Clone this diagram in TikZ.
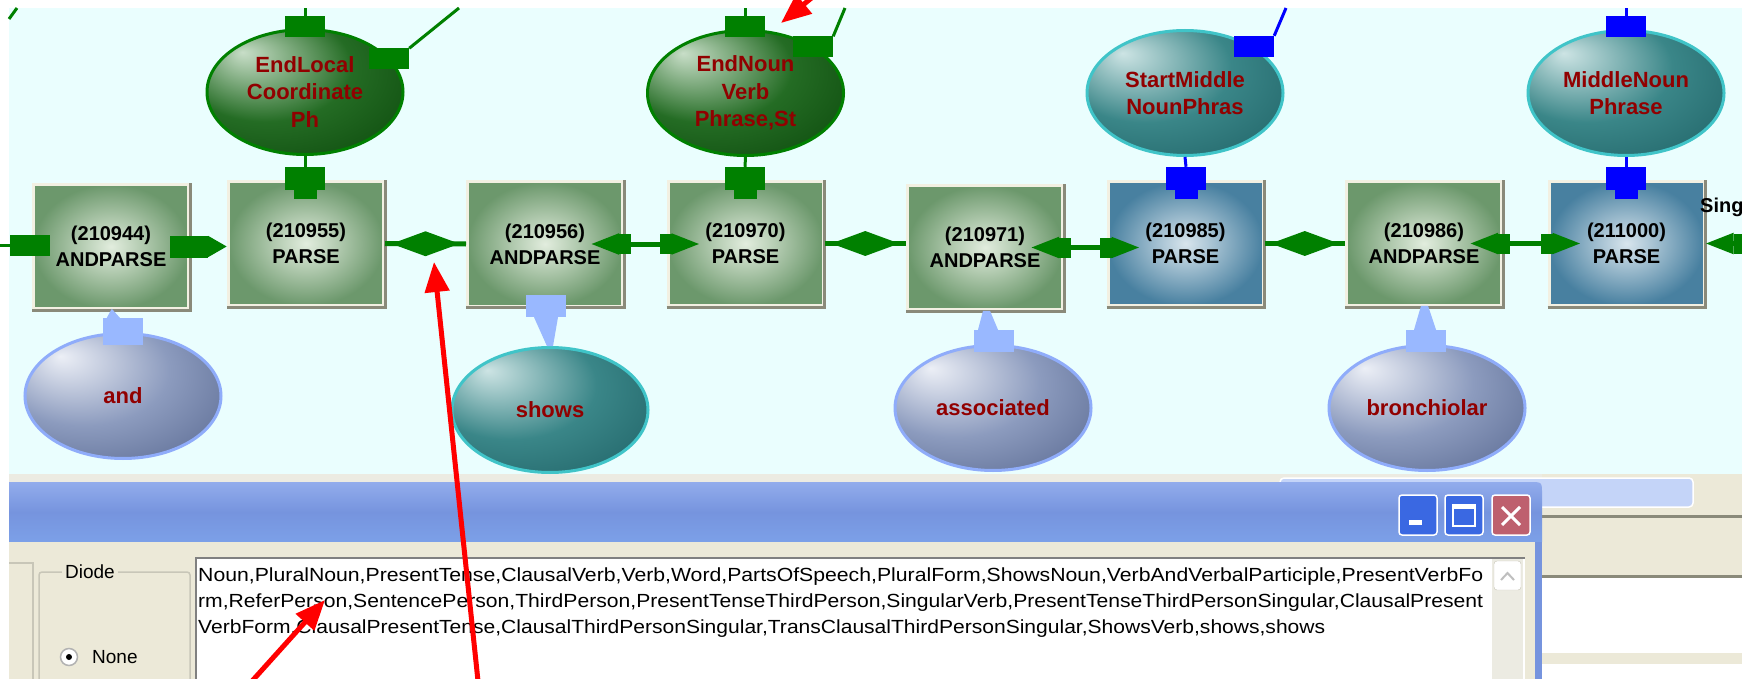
\documentclass[tikz,border=0pt]{standalone}
\usepackage{fontspec}
\setmainfont{Liberation Sans}
\usepackage{graphicx}
\usetikzlibrary{shapes.geometric,arrows.meta,calc}

\definecolor{canvasbg}{RGB}{234,254,254}
\definecolor{stripgray}{RGB}{236,235,226}
\definecolor{wiregreen}{RGB}{0,128,0}
\definecolor{portblue}{RGB}{0,0,255}
\definecolor{portlight}{RGB}{153,184,255}
\definecolor{greenout}{RGB}{108,152,108}
\definecolor{greenin}{RGB}{226,237,222}
\definecolor{blueout}{RGB}{72,128,160}
\definecolor{bluein}{RGB}{216,229,237}
\definecolor{boxrim}{RGB}{242,240,226}
\definecolor{boxshadow}{RGB}{138,138,122}
\definecolor{labelred}{RGB}{145,0,0}
\definecolor{greenhi}{RGB}{200,222,200}
\definecolor{greenmid}{RGB}{36,108,36}
\definecolor{greenrim}{RGB}{10,70,10}
\definecolor{tealhi}{RGB}{205,228,228}
\definecolor{tealmid}{RGB}{58,134,136}
\definecolor{tealrimc}{RGB}{30,96,100}
\definecolor{grayhi}{RGB}{236,239,246}
\definecolor{graymid}{RGB}{140,155,190}
\definecolor{grayrimc}{RGB}{86,102,142}
\definecolor{tealrim}{RGB}{64,196,200}
\definecolor{grayrim}{RGB}{143,172,250}
\definecolor{xpbeige}{RGB}{236,233,216}
\definecolor{titletop}{RGB}{146,172,236}
\definecolor{titlemid}{RGB}{118,148,222}
\definecolor{titlebot}{RGB}{124,160,232}
\definecolor{otherbar}{RGB}{196,212,248}
\definecolor{btnblue}{RGB}{58,104,226}
\definecolor{btnred}{RGB}{190,96,110}
\definecolor{framegray}{RGB}{200,198,184}
\definecolor{editgray}{RGB}{128,128,128}

\pgfdeclareradialshading{greenglow}{\pgfpoint{-16bp}{16bp}}{color(0bp)=(greenhi); color(22bp)=(greenmid); color(44bp)=(greenrim); color(60bp)=(greenrim)}
\pgfdeclareradialshading{tealglow}{\pgfpoint{-16bp}{16bp}}{color(0bp)=(tealhi); color(22bp)=(tealmid); color(44bp)=(tealrimc); color(60bp)=(tealrimc)}
\pgfdeclareradialshading{grayglow}{\pgfpoint{-16bp}{16bp}}{color(0bp)=(grayhi); color(22bp)=(graymid); color(44bp)=(grayrimc); color(60bp)=(grayrimc)}

\newcommand{\parsefont}{\fontsize{20}{26}\selectfont\bfseries}
\newcommand{\tagfont}{\fontsize{22}{27.5}\selectfont\bfseries}
\newcommand{\uifont}{\fontsize{19}{26}\selectfont}

\tikzset{
  parsebox/.style={rectangle, minimum width=155pt, minimum height=124pt, inner sep=0pt,
    draw=boxrim, line width=3pt, inner color=greenin, outer color=greenout,
    align=center, font=\parsefont},
  bluebox/.style={parsebox, inner color=bluein, outer color=blueout},
  boxshade/.style={draw=boxshadow, line width=3pt},
  greenball/.style={ellipse, minimum width=196pt, minimum height=125pt, inner sep=0pt,
    shade, shading=greenglow, draw=wiregreen, line width=3pt, align=center,
    text=labelred, font=\tagfont},
  tealball/.style={greenball, shading=tealglow, draw=tealrim},
  grayball/.style={greenball, shading=grayglow, draw=grayrim},
  gport/.style={rectangle, fill=wiregreen, minimum width=40pt, minimum height=21pt, inner sep=0pt},
  bport/.style={gport, fill=portblue},
  lport/.style={gport, fill=portlight, minimum height=22pt},
  wire/.style={draw=wiregreen, line width=3pt},
  bwire/.style={draw=portblue, line width=3pt},
  link/.style={draw=wiregreen, line width=5pt},
  diode/.style={diamond, aspect=2.6, fill=wiregreen, minimum width=70pt, minimum height=27pt, inner sep=0pt},
  biarrow/.style={link,
    arrows={{Triangle[length=28pt,width=20pt] Rectangle[length=12pt,width=20pt]}-{Rectangle[length=12pt,width=20pt] Triangle[length=28pt,width=20pt]}},
    shorten <=-33pt, shorten >=-33pt},
  redarrow/.style={draw=red, line width=5pt, arrows={-{Triangle[length=30pt,width=24pt]}}},
  uitext/.style={inner sep=0pt, font=\uifont}
}

\begin{document}
\begin{tikzpicture}[x=1pt, y=-1pt]
    \useasboundingbox (0,0) rectangle (1742,679);

    % canvas
    \fill[white] (0,0) rectangle (1742,679);
    \fill[canvasbg] (9,8) rectangle (1742,474);
    \fill[stripgray] (9,474) rectangle (1742,482);

    \coordinate (tl1) at (9,19);
    \coordinate (tl2) at (17,8);
    \draw[wire] (tl1) -- (tl2);

    % parse boxes
    \node[parsebox] (b1) at (111,246.5) {(210944)\\ANDPARSE};
    \node[parsebox] (b2) at (306,243.5) {(210955)\\PARSE};
    \node[parsebox] (b3) at (545,244) {(210956)\\ANDPARSE};
    \node[parsebox] (b4) at (745.5,243.5) {(210970)\\PARSE};
    \node[parsebox] (b5) at (985,247.5) {(210971)\\ANDPARSE};
    \node[bluebox] (b6) at (1185.5,243.5) {(210985)\\PARSE};
    \node[parsebox] (b7) at (1424,243.5) {(210986)\\ANDPARSE};
    \node[bluebox] (b8) at (1626.5,243.5) {(211000)\\PARSE};

    \draw[boxshade] (b1.south west) -- (b1.south east) -- (b1.north east);
    \draw[boxshade] (b2.south west) -- (b2.south east) -- (b2.north east);
    \draw[boxshade] (b3.south west) -- (b3.south east) -- (b3.north east);
    \draw[boxshade] (b4.south west) -- (b4.south east) -- (b4.north east);
    \draw[boxshade] (b5.south west) -- (b5.south east) -- (b5.north east);
    \draw[boxshade] (b6.south west) -- (b6.south east) -- (b6.north east);
    \draw[boxshade] (b7.south west) -- (b7.south east) -- (b7.north east);
    \draw[boxshade] (b8.south west) -- (b8.south east) -- (b8.north east);

    \node[anchor=base west, inner sep=0pt, font=\parsefont] (sing) at (1700,212) {Sing};

    % phrase ellipses
    \node[greenball] (e1) at (305,92) {EndLocal\\Coordinate\\Ph};
    \node[greenball] (e2) at (745.5,93) {EndNoun\\Verb\\Phrase,St};
    \node[tealball] (e3) at (1185,93) {StartMiddle\\NounPhras};
    \node[tealball] (e4) at (1626,93) {MiddleNoun\\Phrase};

    % word ellipses
    \node[grayball] (w1) at (123,396) {and};
    \node[tealball] (w2) at (550,410) {shows};
    \node[grayball] (w3) at (993,408) {associated};
    \node[grayball] (w4) at (1427,408) {bronchiolar};

    % ports above the boxes
    \node[gport, minimum height=23pt] (pe1) at (305,178.5) {};
    \node[gport, minimum width=23pt, minimum height=9pt, anchor=north] (pe1t) at (pe1.south) {};
    \node[gport, minimum height=23pt] (pe2) at (745,178.5) {};
    \node[gport, minimum width=23pt, minimum height=9pt, anchor=north] (pe2t) at (pe2.south) {};
    \node[bport, minimum height=23pt] (pe3) at (1186,178.5) {};
    \node[bport, minimum width=23pt, minimum height=9pt, anchor=north] (pe3t) at (pe3.south) {};
    \node[bport, minimum height=23pt] (pe4) at (1626,178.5) {};
    \node[bport, minimum width=23pt, minimum height=9pt, anchor=north] (pe4t) at (pe4.south) {};
    \draw[wire] (e1.south) -- (pe1.north);
    \draw[wire] (e2.south) -- (pe2.north);
    \draw[bwire] (e3.south) -- (pe3.north);
    \draw[bwire] (e4.south) -- (pe4.north);

    % ports on top of the ellipses
    \coordinate (up1) at (305,8);
    \coordinate (up2) at (745,8);
    \coordinate (up4) at (1626,8);
    \coordinate (far1) at (459,8);
    \coordinate (far2) at (845,8);
    \coordinate (far3) at (1286,8);
    \node[gport] (te1) at (305,27) {};
    \node[gport] (te2) at (745,27) {};
    \node[bport] (te4) at (1626,26.5) {};
    \node[gport] (re1) at (389,59) {};
    \node[gport] (re2) at (813,47) {};
    \node[bport] (re3) at (1254,46.5) {};
    \draw[wire] (te1.north) -- (up1);
    \draw[wire] (te2.north) -- (up2);
    \draw[bwire] (te4.north) -- (up4);
    \draw[wire] (re1.north east) -- (far1);
    \draw[wire] (re2.north east) -- (far2);
    \draw[bwire] (re3.north east) -- (far3);

    % ports below the ANDPARSE boxes
    \node[lport, minimum height=27pt] (lp1) at (123,331.5) {};
    \node[lport] (lp3) at (546,306) {};
    \node[lport] (lp5) at (994,341) {};
    \node[lport] (lp7) at (1426,341) {};
    \fill[portlight] ($(lp1.north west)+(4,0)$) -- ($(lp1.north west)+(17,0)$) -- ($(lp1.north west)+(9,-9)$) -- cycle;
    \fill[portlight] ($(lp3.south)+(-12,0)$) -- ($(lp3.south)+(12,0)$) -- ($(lp3.south)+(7,29)$) -- ($(lp3.south)+(1,29)$) -- cycle;
    \fill[portlight] ($(lp5.north)+(-16,0)$) -- ($(lp5.north)+(4,0)$) -- ($(lp5.north)+(-4,-19)$) -- ($(lp5.north)+(-11,-19)$) -- cycle;
    \fill[portlight] ($(lp7.north)+(-12,0)$) -- ($(lp7.north)+(10,0)$) -- ($(lp7.north)+(2,-24)$) -- ($(lp7.north)+(-5,-24)$) -- cycle;

    % links between the boxes
    \coordinate (lft) at (0,245.5);
    \coordinate (rgt) at (1800,243.5);
    \node[gport] (in1) at (30,245.5) {};
    \draw[wire] (lft) -- (in1);
    \draw[link, arrows={-{Rectangle[length=38pt,width=22pt] Triangle[length=19pt,width=20pt]}}, shorten <=-20pt] (b1.east) -- (b1.east -| b2.west);
    \draw[link] (b2.east) -- (b3.west) node[midway, diode] (d1) {};
    \draw[biarrow] (b3.east) -- (b3.east -| b4.west);
    \draw[link] (b4.east) -- (b4.east -| b5.west) node[midway, diode] (d2) {};
    \draw[biarrow] (b5.east) -- (b5.east -| b6.west);
    \draw[link] (b6.east) -- (b7.west) node[midway, diode] (d3) {};
    \draw[biarrow] (b7.east) -- (b8.west);
    \draw[biarrow, shorten <=0pt] (b8.east) -- (rgt);

    % dialog window
    \fill[xpbeige] (1542,474) rectangle (1742,679);
    \fill[otherbar] (1280,478) [rounded corners=4pt] rectangle (1693,507);
    \draw[white, line width=1.5pt, rounded corners=4pt] (1280,478) rectangle (1693,507);
    \draw[boxshadow, line width=3pt] (1542,516.5) -- (1742,516.5);
    \draw[boxshadow, line width=3pt] (1542,576) -- (1742,576);
    \fill[white] (1542,578) rectangle (1742,653);
    \fill[white] (1542,664) rectangle (1742,679);

    \shade[top color=titletop, bottom color=titlebot, middle color=titlemid]
        (9,542) -- (9,482) -- (1530,482) .. controls (1542,482) .. (1542,494) -- (1542,542) -- cycle;
    \fill[xpbeige] (9,542) rectangle (1535,679);
    \fill[titlemid] (1535,542) rectangle (1542,679);

    \node[rectangle, rounded corners=3pt, draw=white, line width=1.5pt, fill=btnblue,
        minimum width=38pt, minimum height=40pt, inner sep=0pt] (minbtn) at (1418,515) {};
    \node[rectangle, rounded corners=3pt, draw=white, line width=1.5pt, fill=btnblue,
        minimum width=38pt, minimum height=40pt, inner sep=0pt] (maxbtn) at (1464,515) {};
    \node[rectangle, rounded corners=3pt, draw=white, line width=1.5pt, fill=btnred,
        minimum width=38pt, minimum height=40pt, inner sep=0pt] (closebtn) at (1511,515) {};
    \fill[white] ($(minbtn.center)+(-9,5)$) rectangle ($(minbtn.center)+(4,10)$);
    \draw[white, line width=2pt] ($(maxbtn.center)+(-11,-10)$) rectangle ($(maxbtn.center)+(11,11)$);
    \fill[white] ($(maxbtn.center)+(-11,-10)$) rectangle ($(maxbtn.center)+(11,-6)$);
    \draw[white, line width=3pt] ($(closebtn.center)+(-9,-8)$) -- ($(closebtn.center)+(9,10)$);
    \draw[white, line width=3pt] ($(closebtn.center)+(-9,10)$) -- ($(closebtn.center)+(9,-8)$);

    \draw[framegray, line width=1.5pt] (9,563) -- (33,563) -- (33,679);
    \draw[framegray, line width=1.5pt, rounded corners=3pt] (39,700) |- (190,572) -- (190,700);
    \node[uitext, fill=xpbeige, inner xsep=3pt] (diode) at (90,572) {Diode};
    \node[circle, draw=gray!60, fill=white, line width=1.5pt, minimum size=17pt, inner sep=0pt] (radio) at (69,657) {};
    \node[circle, fill=black, minimum size=6pt, inner sep=0pt] (radiodot) at (radio) {};
    \node[uitext, anchor=west] (none) at (92,657) {None};

    \fill[white] (195,557) rectangle (1525,700);
    \draw[editgray, line width=2pt] (196,700) |- (1525,558);
    \fill[stripgray] (1492,559) rectangle (1523,679);
    \draw[fill=white, draw=framegray, rounded corners=3pt] (1494,561) rectangle (1521,590);
    \draw[gray!50, line width=2pt] (1501,580) -- (1507.5,573) -- (1514,580);

    \node[uitext, anchor=base west] (ln1) at (198,581) {\resizebox{1285pt}{\height}{Noun,PluralNoun,PresentTense,ClausalVerb,Verb,Word,PartsOfSpeech,PluralForm,ShowsNoun,VerbAndVerbalParticiple,PresentVerbFo}};
    \node[uitext, anchor=base west] (ln2) at (198,607) {\resizebox{1285pt}{\height}{rm,ReferPerson,SentencePerson,ThirdPerson,PresentTenseThirdPerson,SingularVerb,PresentTenseThirdPersonSingular,ClausalPresent}};
    \node[uitext, anchor=base west] (ln3) at (198,633) {\resizebox{1127pt}{\height}{VerbForm,ClausalPresentTense,ClausalThirdPersonSingular,TransClausalThirdPersonSingular,ShowsVerb,shows,shows}};

    % red pointers
    \coordinate (tipA) at (434,262);
    \coordinate (tailA) at (480,700);
    \coordinate (tipB) at (325,600);
    \coordinate (tailB) at (244,690);
    \coordinate (tipC) at (781,23);
    \coordinate (tailC) at (837,-23);
    \draw[redarrow] (tailA) -- (tipA);
    \draw[redarrow] (tailB) -- (tipB);
    \draw[redarrow] (tailC) -- (tipC);
\end{tikzpicture}
\end{document}
